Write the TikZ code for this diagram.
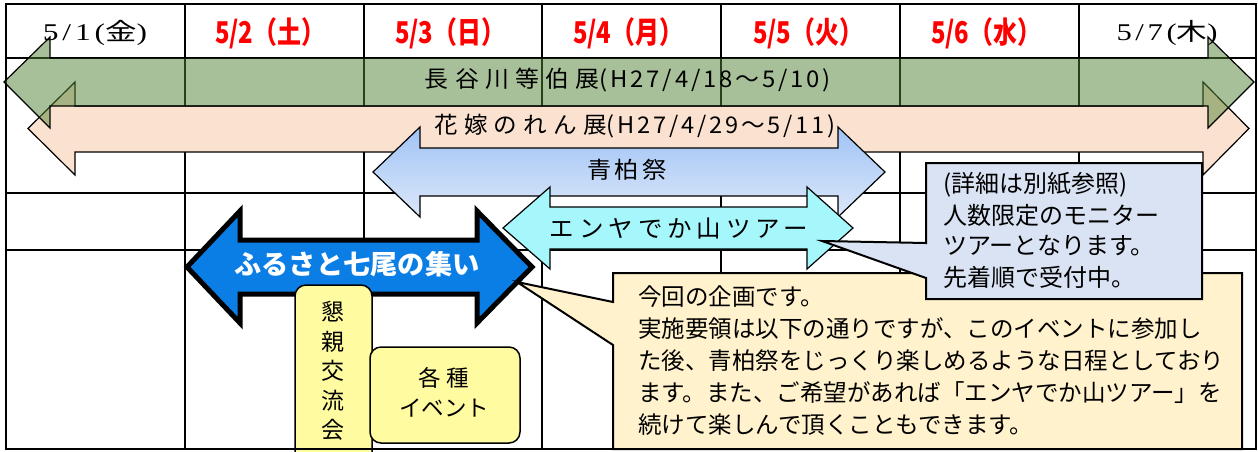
\documentclass[tikz,border=0pt]{standalone}
\usepackage{fontspec}
\usepackage{graphicx}
\setmainfont{Liberation Serif}
\newfontfamily\jp{Noto Sans CJK JP}
\newfontfamily\serls{Liberation Serif}[LetterSpace=12]
\newcommand\fitw[2]{\resizebox{#1}{\height}{#2}}
\newcommand\lsp[2]{{\addfontfeature{LetterSpace=#1}#2}}
\definecolor{grnA}{RGB}{83,131,53}
\definecolor{salA}{RGB}{251,226,208}
\definecolor{bluTop}{RGB}{160,195,245}
\definecolor{bluBot}{RGB}{220,232,250}
\definecolor{cyaA}{RGB}{166,247,252}
\definecolor{dbluA}{RGB}{11,126,230}
\definecolor{yelA}{RGB}{255,251,160}
\definecolor{creA}{RGB}{255,242,204}
\definecolor{calB}{RGB}{218,227,243}
\definecolor{redH}{RGB}{255,0,0}
\tikzset{
  gridline/.style={draw=black, line width=2pt},
  thinarrow/.style={draw=black, line width=1.2pt, line join=miter},
  callbox/.style={draw=black, line width=2pt, line join=miter},
  yelbox/.style={draw=black, line width=1.5pt, fill=yelA, rounded corners=11pt},
  hdrred/.style={font={\fontsize{30}{32}\selectfont\jp\bfseries}, text=redH, inner sep=0pt},
  hdrblk/.style={font={\fontsize{24}{28}\selectfont}, text=black, inner sep=0pt},
  barlbl/.style={font={\fontsize{23}{26}\selectfont\jp}, inner sep=0pt},
  calltxt/.style={font={\fontsize{23.5}{30}\selectfont\jp}, anchor=west, inner sep=0pt},
  calltxtb/.style={font={\fontsize{24}{30}\selectfont\jp}, anchor=west, inner sep=0pt},
}
\begin{document}
\begin{tikzpicture}[x=1pt,y=-1pt]
\useasboundingbox (0,0) rectangle (1258,451);
\fill[white] (0,0) rectangle (1258,451);
% grid
\draw[gridline] (6,4) rectangle (1256,449);
\foreach \xx in {185,364,542,721,900,1079} \draw[gridline] (\xx,4) -- (\xx,449);
\foreach \yy in {58,193,250} \draw[gridline] (6,\yy) -- (1256,\yy);
% salmon arrow
\draw[thinarrow, fill=salA] (28,128.5) -- (75,82) -- (75,106) -- (1203,106) -- (1203,82) -- (1249,128.5) -- (1203,175) -- (1203,152) -- (75,152) -- (75,175) -- cycle;
% green arrow (translucent)
\draw[thinarrow, fill=grnA, fill opacity=0.5] (4,82) -- (50,37) -- (50,58) -- (1208,58) -- (1208,37) -- (1254,82) -- (1208,128) -- (1208,106) -- (50,106) -- (50,128) -- cycle;
% blue gradient arrow
\draw[thinarrow, top color=bluTop, bottom color=bluBot] (373,172) -- (420,127) -- (420,148) -- (838,148) -- (838,127) -- (885,172) -- (838,217) -- (838,196) -- (420,196) -- (420,217) -- cycle;
% cyan arrow
\draw[thinarrow, fill=cyaA] (503,228) -- (550,187) -- (550,207) -- (807,207) -- (807,187) -- (853,228) -- (807,269) -- (807,249) -- (550,249) -- (550,269) -- cycle;
% dark blue arrow
\draw[draw=black, line width=5pt, line join=miter, miter limit=10, fill=dbluA] (187,267) -- (240,211) -- (240,240) -- (477,240) -- (477,211) -- (532,267) -- (477,323) -- (477,294) -- (240,294) -- (240,323) -- cycle;
% yellow boxes
\draw[yelbox] (295,285) rectangle (372,470);
\draw[yelbox] (370,347) rectangle (520,443);
% cream callout
\draw[callbox, fill=creA] (613,273) -- (1242,273) -- (1242,449) -- (613,449) -- (613,345) -- (517,282) -- (613,302) -- cycle;
% blue-gray callout
\draw[callbox, fill=calB] (926,163) -- (1202,163) -- (1202,299) -- (926,299) -- (926,278) -- (822,241) -- (926,243) -- cycle;
% bottom border redrawn
\draw[gridline] (6,449) -- (1256,449);
% header
\node[hdrblk] (d1) at (95,33) {\fitw{104pt}{\serls 5/1(\jp 金\serls )}};
\node[hdrred] (d2) at (270,33) {\fitw{110pt}{5/2（土）}};
\node[hdrred] (d3) at (450,33) {\fitw{110pt}{5/3（日）}};
\node[hdrred] (d4) at (628,33) {\fitw{110pt}{5/4（月）}};
\node[hdrred] (d5) at (808,33) {\fitw{110pt}{5/5（火）}};
\node[hdrred] (d6) at (986,33) {\fitw{110pt}{5/6（水）}};
\node[hdrblk] (d7) at (1167,33) {\fitw{101pt}{\serls 5/7(\jp 木\serls )}};
% bar labels
\node[barlbl] (lg) at (628,80) {\fitw{406pt}{\lsp{26}{長谷川等伯展}\lsp{12}{(H27/4/18～5/10)}}};
\node[barlbl] (ls) at (635,126) {\fitw{401pt}{\lsp{26}{花嫁のれん展}\lsp{12}{(H27/4/29～5/11)}}};
\node[barlbl] (lb) at (627,170) {\fitw{80pt}{\lsp{15}{青柏祭}}};
\node[barlbl, font={\fontsize{24}{26}\selectfont\jp}] (lc) at (679,228) {\fitw{258pt}{\lsp{20}{エンヤでか山ツアー}}};
\node[inner sep=0pt, text=white, font={\fontsize{27}{30}\selectfont\jp\bfseries}] (ld) at (357,264) {\fitw{245pt}{ふるさと七尾の集い}};
% yellow box texts
\node[inner sep=0pt, align=center, font={\fontsize{23}{29.5}\selectfont\jp}] (k1) at (333,371) {懇\\親\\交\\流\\会};
\node[inner sep=0pt, align=center, font={\fontsize{22.5}{30}\selectfont\jp}] (k2) at (444,392) {各\hspace{6pt}種\\イベント};
% cream callout text
\node[calltxt] (c1) at (638,297) {今回の企画です。};
\node[calltxt] (c2) at (638,329) {実施要領は以下の通りですが、このイベントに参加し};
\node[calltxt] (c3) at (638,361) {た後、青柏祭をじっくり楽しめるような日程としており};
\node[calltxt] (c4) at (638,393) {ます。また、ご希望があれば「エンヤでか山ツアー」を};
\node[calltxt] (c5) at (638,425) {続けて楽しんで頂くこともできます。};
% blue callout text
\node[calltxtb] (b1) at (943,185) {(詳細は別紙参照)};
\node[calltxtb] (b2) at (943,215) {人数限定のモニター};
\node[calltxtb] (b3) at (943,246) {ツアーとなります。};
\node[calltxtb] (b4) at (943,277) {先着順で受付中。};
\end{tikzpicture}
\end{document}
